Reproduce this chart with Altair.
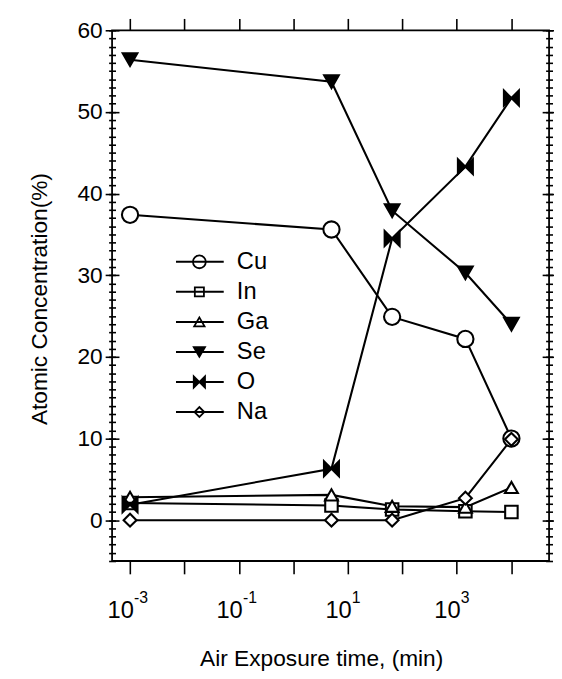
import altair as alt
import pandas as pd

# ---------------- data ----------------
series_names = ["Cu", "In", "Ga", "Se", "O", "Na"]
exposure_min = [0.001, 5, 65, 1440, 10080]
cu_vals = [37.4, 35.6, 24.9, 22.2, 10.0]
in_vals = [2.1, 1.8, 1.3, 1.1, 1.0]
ga_vals = [2.8, 3.1, 1.7, 1.6, 4.0]
se_vals = [56.4, 53.7, 37.9, 30.3, 24.0]
o_vals = [1.9, 6.3, 34.5, 43.3, 51.7]
na_vals = [0.0, 0.0, 0.0, 2.7, 9.9]

x_label_exps = [-3, -1, 1, 3]
x_tick_exps = [-3, -2, -1, 0, 1, 2, 3, 4]
y_major = [0, 10, 20, 30, 40, 50, 60]
y_minor = list(range(-5, 61))

# ---------------- styles ----------------
bowtie = "M-1,-1L0,0L-1,1Z M1,-1L0,0L1,1Z"
marker_shapes = ["circle", "square", "triangle-up", "triangle-down", bowtie, "diamond"]
marker_fills = ["white", "white", "white", "black", "black", "white"]
legend_fills = ["transparent", "transparent", "transparent", "black", "black", "transparent"]
marker_sizes = [270, 160, 170, 220, 230, 170]
legend_sizes = [170, 85, 110, 130, 130, 100]

FONT = "Liberation Sans"

all_vals = [cu_vals, in_vals, ga_vals, se_vals, o_vals, na_vals]
rows = []
for name, vals, shp, fil, sz in zip(series_names, all_vals, marker_shapes, marker_fills, marker_sizes):
    for t, v in zip(exposure_min, vals):
        rows.append({"series": name, "time": t, "value": v, "mshape": shp, "mfill": fil, "msize": sz})
df = pd.DataFrame(rows)

leg_df = pd.DataFrame({
    "series": series_names,
    "mshape": marker_shapes,
    "mfill": legend_fills,
    "msize": legend_sizes,
})

exp_df = pd.DataFrame({
    "pos": [10.0 ** e for e in x_label_exps],
    "txt": [str(e) for e in x_label_exps],
})

xs = alt.Scale(type="log", domain=[10 ** -3.33, 10 ** 4.695], nice=False)
ys = alt.Scale(domain=[-5, 60], nice=False, zero=False)
decades = [10.0 ** e for e in x_tick_exps]

common_tick = dict(tickColor="black", tickWidth=1.6, domain=False, grid=False)

bottom_axis = alt.Axis(
    orient="bottom", values=decades, tickSize=13, **common_tick,
    labelExpr="indexof(" + str(x_label_exps) + ", round(log(datum.value)/LN10)) >= 0 ? '10' : ''",
    labelFont=FONT, labelFontSize=24, labelColor="black", labelAlign="right",
    labelOffset=3.4, labelBaseline="alphabetic", labelPadding=44, labelFlush=False,
    labelOverlap=False,
    title="Air Exposure time, (min)", titleFont=FONT, titleFontSize=23,
    titleFontWeight="normal", titleColor="black", titleBaseline="alphabetic",
    titleX=212, titleY=105.5, titleAnchor="middle", titleAlign="center",
)
top_axis = alt.Axis(orient="top", values=decades, tickSize=12, labels=False, title=None, **common_tick)

left_major = alt.Axis(
    orient="left", values=y_major, offset=-7, tickSize=14, **common_tick,
    labelFont=FONT, labelFontSize=23, labelColor="black", labelPadding=3,
    labelFlush=False, labelOverlap=False,
    title="Atomic Concentration(%)", titleFont=FONT, titleFontSize=23,
    titleFontWeight="normal", titleColor="black", titleX=-80.5, titleY=272,
    titleBaseline="middle", titleAlign="center", titleAngle=270,
)
left_minor = alt.Axis(orient="left", values=y_minor, offset=-3.5, tickSize=7,
                      labels=False, title=None, **common_tick)
right_major = alt.Axis(orient="right", values=y_major, offset=-7, tickSize=14,
                       labels=False, title=None, **common_tick)
right_minor = alt.Axis(orient="right", values=y_minor, offset=-3.5, tickSize=7,
                       labels=False, title=None, **common_tick)


def axis_layer(xaxis, yaxis):
    return alt.Chart(df).mark_point(opacity=0, size=1).encode(
        x=alt.X("time:Q", scale=xs, axis=xaxis),
        y=alt.Y("value:Q", scale=ys, axis=yaxis),
    )


ax1 = axis_layer(bottom_axis, left_major)
ax2 = axis_layer(top_axis, left_minor)
ax3 = axis_layer(None, right_major)
ax4 = axis_layer(None, right_minor)

lines = alt.Chart(df).mark_line(color="black", strokeWidth=2.1).encode(
    x=alt.X("time:Q", scale=xs, axis=None),
    y=alt.Y("value:Q", scale=ys, axis=None),
    detail="series:N",
)

points = alt.Chart(df).mark_point(filled=True, stroke="black", strokeWidth=2.1, opacity=1).encode(
    x=alt.X("time:Q", scale=xs, axis=None),
    y=alt.Y("value:Q", scale=ys, axis=None),
    shape=alt.Shape("mshape:N", scale=None),
    fill=alt.Fill("mfill:N", scale=None),
    size=alt.Size("msize:Q", scale=None),
)

exps = alt.Chart(exp_df).mark_text(
    align="left", baseline="alphabetic", fontSize=16, font=FONT, color="black", dx=4
).encode(
    x=alt.X("pos:Q", scale=xs, axis=None),
    y=alt.value(581),
    text="txt:N",
)

data_layer = alt.layer(ax1, ax2, ax3, ax4, lines, points, exps).resolve_axis(
    x="independent", y="independent"
)

ly = alt.Scale(type="point", domain=series_names, range=[234.7, 387], padding=0)

leg_rule = alt.Chart(leg_df).mark_rule(color="black", strokeWidth=2.0).encode(
    x=alt.value(64.8), x2=alt.value(113.2),
    y=alt.Y("series:N", scale=ly, axis=None),
)
leg_pts = alt.Chart(leg_df).mark_point(filled=True, stroke="black", strokeWidth=1.8, opacity=1).encode(
    x=alt.value(88.5),
    y=alt.Y("series:N", scale=ly, axis=None),
    shape=alt.Shape("mshape:N", scale=None),
    fill=alt.Fill("mfill:N", scale=None),
    size=alt.Size("msize:Q", scale=None),
)
leg_txt = alt.Chart(leg_df).mark_text(
    align="left", baseline="middle", fontSize=24, font=FONT, color="black"
).encode(
    x=alt.value(126.5),
    y=alt.Y("series:N", scale=ly, axis=None),
    text="series:N",
)
legend_layer = alt.layer(leg_rule, leg_pts, leg_txt)

chart = alt.layer(data_layer, legend_layer).resolve_scale(
    y="independent"
).properties(
    width=443, height=538,
    padding={"left": 105.5, "top": 18, "right": 5, "bottom": 113},
    autosize=alt.AutoSizeParams(type="none"),
).configure(font=FONT).configure_view(stroke="black", strokeWidth=1.8)

chart.save("out.html", embed_options={"renderer": "svg", "actions": False})
